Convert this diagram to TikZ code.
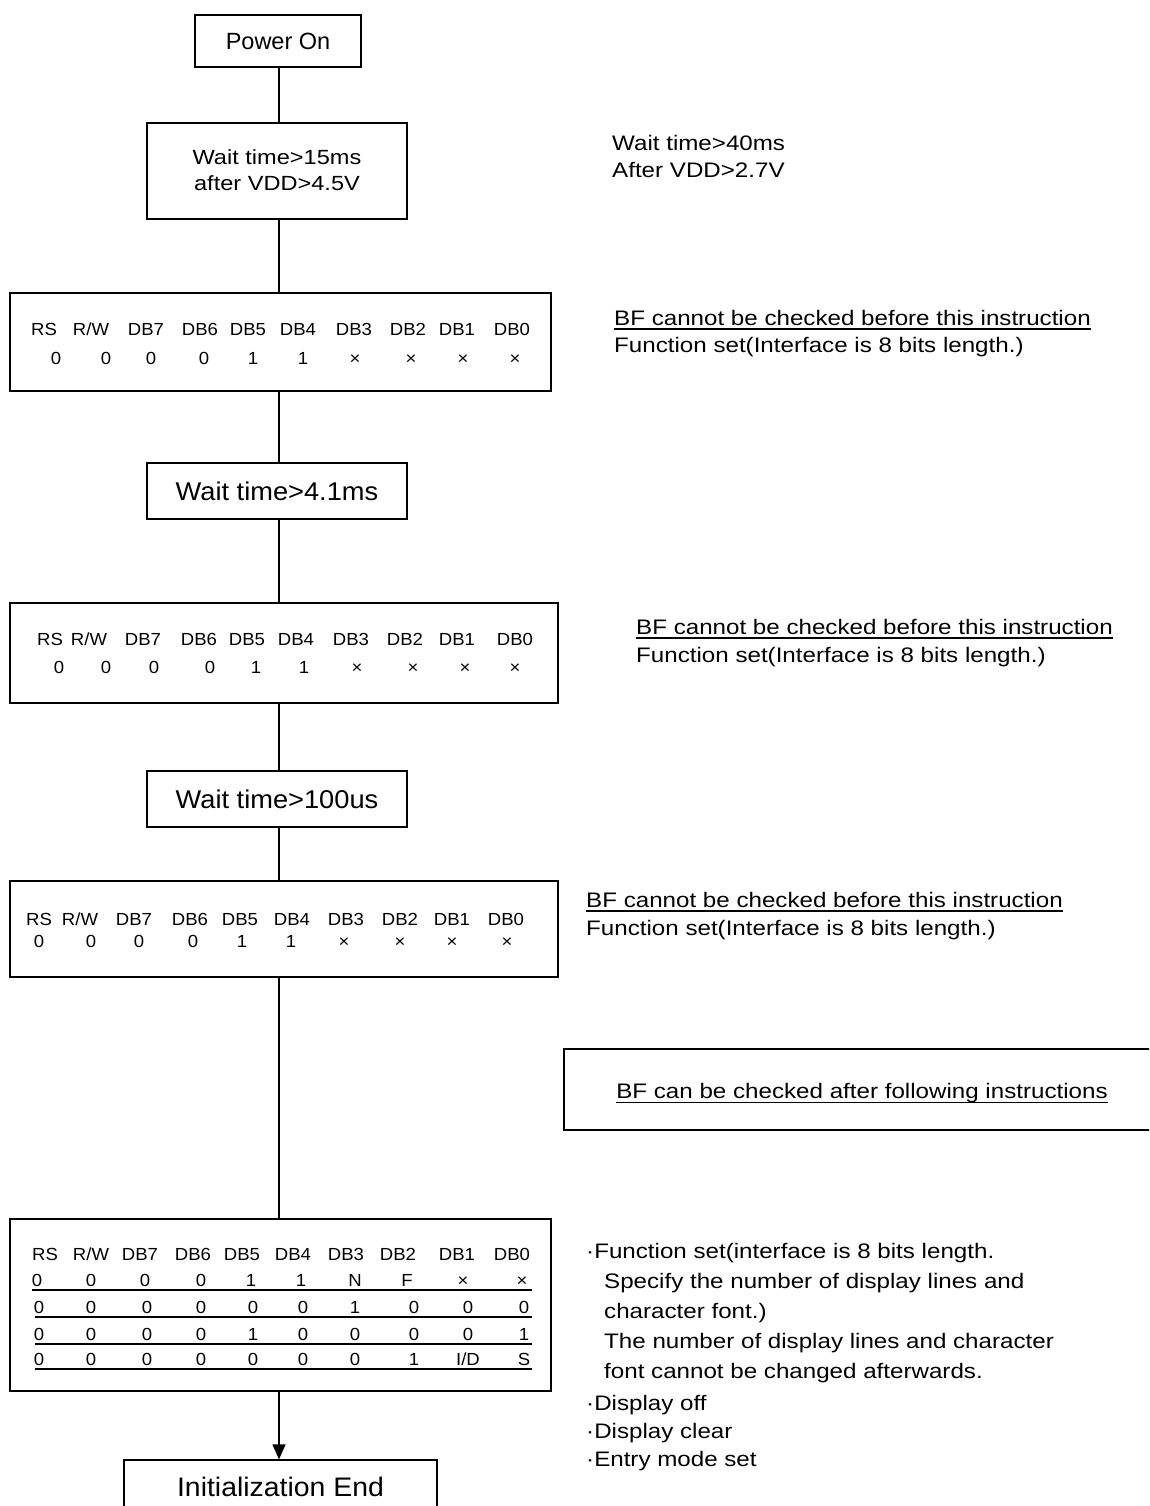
\documentclass[tikz,border=0pt]{standalone}
\usepackage{fontspec}
\setmainfont{Liberation Sans}
\newfontfamily\nf{Liberation Sans}[FakeStretch=1.15]
\newfontfamily\mf{Liberation Sans}[FakeStretch=1.06]
\usetikzlibrary{arrows.meta}
\newcommand\cellrow[3]{\foreach \cx/\ct [count=\ci] in {#3} {\node[cell] (#1\ci) at (\cx,#2) {\ct};}}
\tikzset{
  box/.style={draw, inner sep=0pt, line width=1.3pt},
  lbl/.style={inner sep=0pt, anchor=base},
  cell/.style={inner sep=0pt, anchor=base, font=\mf\fontsize{17.5}{20}\selectfont},
  note/.style={inner sep=0pt, anchor=base west, font=\nf\fontsize{21}{25}\selectfont},
  big/.style={inner sep=0pt, anchor=base, font=\mf\fontsize{25.7}{30}\selectfont},
  uline/.style={line width=1.6pt},
  conn/.style={line width=1.3pt},
}
\begin{document}
\begin{tikzpicture}[x=1pt,y=-1pt]
\clip (0,0) rectangle (1149,1506);
\fill[white] (0,0) rectangle (1149,1506);
\coordinate (sp) at (279,0);

% ---- flow boxes
\node[box, minimum width=166pt, minimum height=52pt] (pwr) at (278,41) {};
\node[lbl, font=\fontsize{23.5}{28}\selectfont] (pwrT) at (278,50) {Power On};

\node[box, minimum width=260pt, minimum height=96pt] (w15) at (277,171) {};
\node[lbl, font=\nf\fontsize{20.5}{24}\selectfont] (w15a) at (277,165) {Wait time>15ms};
\node[lbl, font=\nf\fontsize{20.5}{24}\selectfont] (w15b) at (277,191) {after VDD>4.5V};

\node[box, minimum width=541pt, minimum height=98pt] (f1) at (280.5,342) {};
\cellrow{fa}{335}{44/RS, 91/{R/W}, 146/DB7, 200/DB6, 248/DB5, 298/DB4, 354/DB3, 408/DB2, 457/DB1, 512/DB0}
\cellrow{fb}{364}{56/0, 106/0, 151/0, 204/0, 253/1, 303/1, 355/×, 411/×, 463/×, 515/×}

\node[box, minimum width=260pt, minimum height=56pt] (w41) at (277,491) {};
\node[big] (w41T) at (277,500) {Wait time>4.1ms};

\node[box, minimum width=548pt, minimum height=100pt] (f2) at (284,653) {};
\cellrow{ga}{645}{50/RS, 89/{R/W}, 143/DB7, 199/DB6, 247/DB5, 296/DB4, 351/DB3, 405/DB2, 457/DB1, 515/DB0}
\cellrow{gb}{673}{59/0, 106/0, 154/0, 210/0, 256/1, 304/1, 357/×, 413/×, 465/×, 515/×}

\node[box, minimum width=260pt, minimum height=56pt] (w100) at (277,799) {};
\node[big] (w100T) at (277,808) {Wait time>100us};

\node[box, minimum width=548pt, minimum height=96pt] (f3) at (284,929) {};
\cellrow{ha}{925}{39/RS, 80/{R/W}, 134/DB7, 190/DB6, 240/DB5, 292/DB4, 346/DB3, 400/DB2, 452/DB1, 506/DB0}
\cellrow{hb}{947}{39/0, 91/0, 139/0, 193/0, 242/1, 291/1, 344/×, 400/×, 452/×, 507/×}

\node[box, minimum width=541pt, minimum height=172pt] (f4) at (280.5,1305) {};
\cellrow{ka}{1260}{45/RS, 91/{R/W}, 140/DB7, 193/DB6, 242/DB5, 293/DB4, 346/DB3, 398/DB2, 457/DB1, 512/DB0}
\cellrow{kb}{1286.5}{37/0, 91/0, 145/0, 201/0, 251/1, 301/1, 355/N, 407/F, 463/×, 522/×}
\cellrow{kc}{1313}{39/0, 91/0, 147/0, 201/0, 253/0, 303/0, 355/1, 414/0, 468/0, 524/0}
\cellrow{kd}{1340}{39/0, 91/0, 147/0, 201/0, 253/1, 303/0, 355/0, 414/0, 468/0, 524/1}
\cellrow{ke}{1365}{39/0, 91/0, 147/0, 201/0, 253/0, 303/0, 355/0, 414/1, 468/{I/D}, 524/S}
\coordinate (u1a) at (32,1290);  \coordinate (u1b) at (532,1290);
\coordinate (u2a) at (35,1317);  \coordinate (u2b) at (532,1317);
\coordinate (u3a) at (35,1344);  \coordinate (u3b) at (532,1344);
\coordinate (u4a) at (35,1369);  \coordinate (u4b) at (532,1369);
\draw[conn] (u1a) -- (u1b);
\draw[conn] (u2a) -- (u2b);
\draw[conn] (u3a) -- (u3b);
\draw[conn] (u4a) -- (u4b);

\node[box, minimum width=313pt, minimum height=80pt] (iend) at (280.5,1500) {};
\node[lbl, font=\mf\fontsize{26.8}{30}\selectfont] (iendT) at (280.5,1496) {Initialization End};

% ---- connectors
\draw[conn] (pwr.south -| sp) -- (w15.north -| sp);
\draw[conn] (w15.south -| sp) -- (f1.north -| sp);
\draw[conn] (f1.south -| sp) -- (w41.north -| sp);
\draw[conn] (w41.south -| sp) -- (f2.north -| sp);
\draw[conn] (f2.south -| sp) -- (w100.north -| sp);
\draw[conn] (w100.south -| sp) -- (f3.north -| sp);
\draw[conn] (f3.south -| sp) -- (f4.north -| sp);
\draw[conn, -{Triangle[width=13pt,length=15pt]}] (f4.south -| sp) -- (iend.north -| sp);

% ---- notes
\node[note] (n0a) at (612,150.5) {Wait time>40ms};
\node[note] (n0b) at (612,177.5) {After VDD>2.7V};

\node[note] (n1a) at (614,325.5) {BF cannot be checked before this instruction};
\node[note] (n1b) at (614,352.5) {Function set(Interface is 8 bits length.)};
\draw[uline] ([yshift=-3.5pt]n1a.base west) -- ([yshift=-3.5pt]n1a.base east);

\node[note] (n2a) at (636,634.5) {BF cannot be checked before this instruction};
\node[note] (n2b) at (636,662.5) {Function set(Interface is 8 bits length.)};
\draw[uline] ([yshift=-3.5pt]n2a.base west) -- ([yshift=-3.5pt]n2a.base east);

\node[note] (n3a) at (586,907.5) {BF cannot be checked before this instruction};
\node[note] (n3b) at (586,935.5) {Function set(Interface is 8 bits length.)};
\draw[uline] ([yshift=-3.5pt]n3a.base west) -- ([yshift=-3.5pt]n3a.base east);

\node[box, minimum width=606pt, minimum height=81pt] (bfb) at (867,1089.5) {};
\node[note, anchor=base] (bfT) at (862,1098.5) {BF can be checked after following instructions};
\draw[uline] ([yshift=-4pt]bfT.base west) -- ([yshift=-4pt]bfT.base east);

\node[note] (l1) at (586,1258.5) {·Function set(interface is 8 bits length.};
\node[note] (l2) at (604,1288.5) {Specify the number of display lines and};
\node[note] (l3) at (604,1318.5) {character font.)};
\node[note] (l4) at (604,1348.5) {The number of display lines and character};
\node[note] (l5) at (604,1378.5) {font cannot be changed afterwards.};
\node[note] (l6) at (586,1410.5) {·Display off};
\node[note] (l7) at (586,1438.5) {·Display clear};
\node[note] (l8) at (586,1466.5) {·Entry mode set};
\end{tikzpicture}
\end{document}
